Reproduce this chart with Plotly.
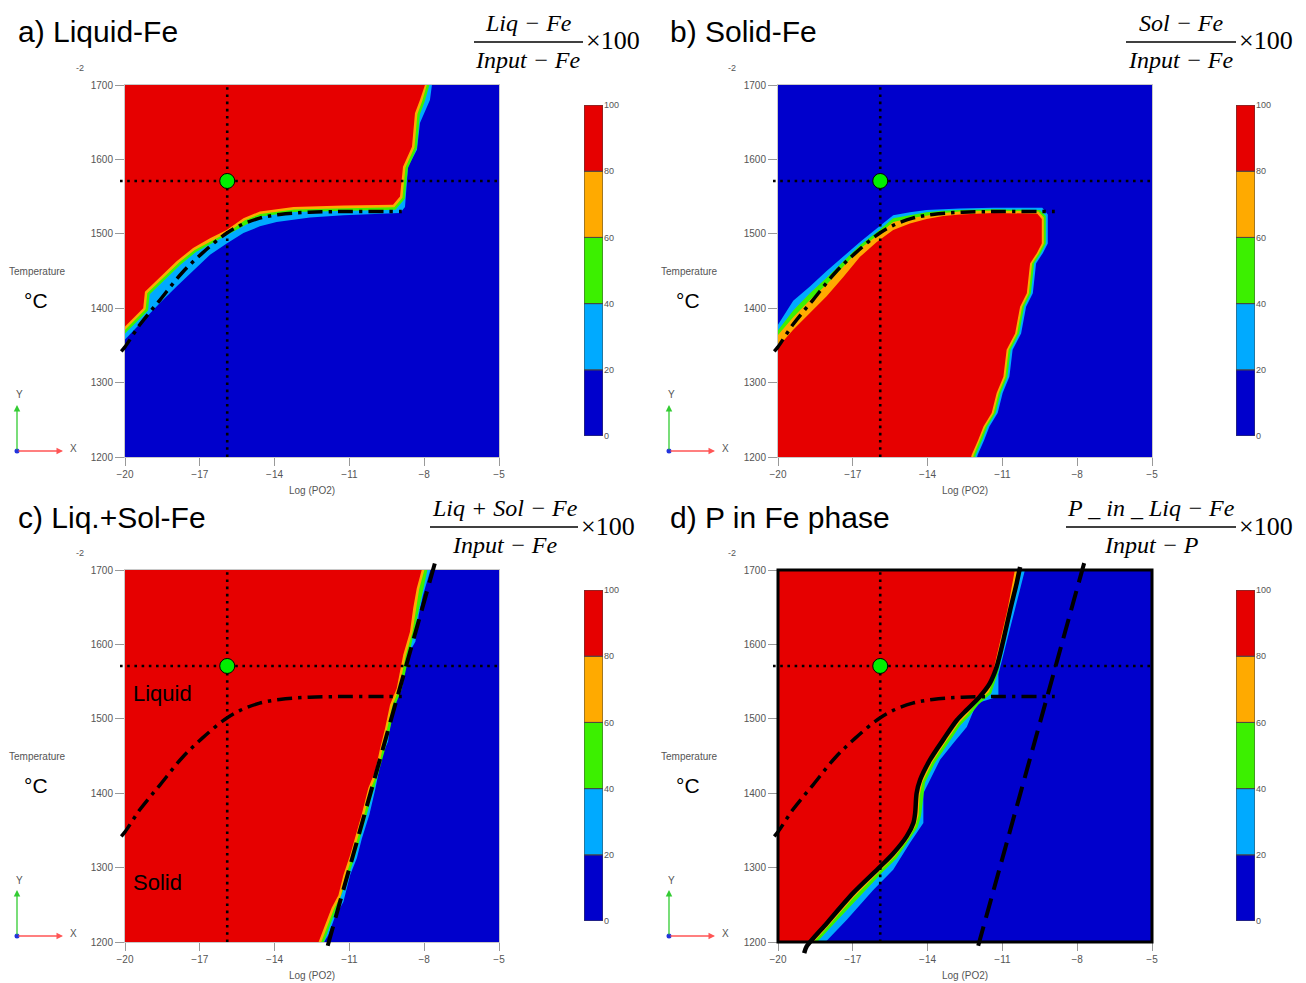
import plotly.graph_objects as go

W, H = 1306, 983

# ---------------- data ----------------
X_RANGE = [-20, -5]
Y_RANGE = [1200, 1700]
X_TICKS = [-20, -17, -14, -11, -8, -5]
Y_TICKS = [1200, 1300, 1400, 1500, 1600, 1700]

CB_LEVELS = [0, 20, 40, 60, 80, 100]
CB_COLORS = ["#0000CC", "#00AAFF", "#3CF000", "#FFAA00", "#E60000"]

# liquidus (dash-dot) line, same in all panels
LIQ_X = [-20.15, -20.0, -19.4, -18.6, -17.7, -16.9, -16.0, -15.4, -14.6, -13.8, -12.6, -11.0, -8.9]
LIQ_T = [1342, 1348, 1378, 1411, 1448, 1474, 1499, 1511, 1521, 1526, 1529, 1530, 1530]

# reference condition (dotted cross + green point)
REF_X = -15.9
REF_T = 1571
HDOT_X = [-20.2, -5.0]
VDOT_T = [1200, 1700]

# a) Liquid-Fe : 80 % edge (red) and 20 % edge (blue)
A_RED_X = [-20.4, -20.0, -19.27, -19.20, -18.60, -17.93, -17.27, -16.59, -15.92, -15.25, -14.59,
           -13.24, -11.24, -9.25, -8.97, -8.89, -8.85, -8.49, -8.37, -8.17, -7.97, -7.90]
A_RED_T = [1362, 1375, 1400, 1422, 1442, 1463, 1481, 1494, 1505, 1521, 1530,
           1536, 1538, 1539, 1550, 1572, 1590, 1617, 1662, 1680, 1700, 1712]
A_BLUE_X = [-20.4, -20.0, -19.27, -18.60, -17.93, -17.26, -16.59, -15.92, -15.25, -14.59, -13.92,
            -12.58, -11.24, -8.97, -8.77, -8.69, -8.65, -8.29, -8.17, -7.77, -7.69, -7.60]
A_BLUE_T = [1344, 1358, 1384, 1407, 1429, 1451, 1472, 1487, 1501, 1510, 1516,
            1522, 1525, 1528, 1536, 1572, 1590, 1613, 1649, 1680, 1700, 1712]

# b) Solid-Fe : edges of the 80, 60, 40 and 20 % levels
B_80_X = [-20.5, -20.05, -19.39, -18.72, -18.05, -17.38, -16.71, -16.04, -15.38, -14.71, -14.04,
          -13.37, -12.70, -11.36, -9.60, -9.42, -9.42, -9.62, -9.89, -10.02, -10.29, -10.49,
          -10.83, -10.96, -11.23, -11.43, -11.76, -11.97, -12.23, -12.35]
B_80_T = [1338, 1346, 1371, 1393, 1416, 1442, 1469, 1489, 1505, 1514, 1520,
          1524, 1526, 1528, 1527, 1520, 1487, 1474, 1460, 1420, 1402, 1366,
          1344, 1308, 1286, 1259, 1241, 1223, 1203, 1188]
B_60_X = [-20.5, -20.05, -19.39, -18.72, -18.05, -17.38, -16.71, -16.04, -15.38, -14.71, -14.04,
          -13.37, -12.70, -11.36, -9.55, -9.34, -9.34, -9.54, -9.81, -9.94, -10.21, -10.41,
          -10.75, -10.88, -11.15, -11.35, -11.68, -11.89, -12.15, -12.27]
B_60_T = [1352, 1362, 1388, 1411, 1432, 1456, 1480, 1497, 1516, 1521, 1525,
          1528, 1530, 1531, 1530, 1522, 1487, 1474, 1460, 1420, 1402, 1366,
          1344, 1308, 1286, 1259, 1241, 1223, 1203, 1188]
B_40_X = [-20.5, -20.05, -19.39, -18.72, -18.05, -17.38, -16.71, -16.04, -15.38, -14.71, -14.04,
          -13.37, -12.70, -11.36, -9.50, -9.26, -9.26, -9.46, -9.73, -9.86, -10.13, -10.33,
          -10.67, -10.80, -11.07, -11.27, -11.60, -11.81, -12.07, -12.19]
B_40_T = [1359, 1368, 1397, 1420, 1441, 1463, 1485, 1502, 1521, 1525, 1529,
          1531, 1532, 1533, 1532, 1524, 1487, 1474, 1460, 1420, 1402, 1366,
          1344, 1308, 1286, 1259, 1241, 1223, 1203, 1188]
B_20_X = [-20.5, -20.05, -19.39, -18.72, -18.05, -17.38, -16.71, -16.04, -15.38, -14.71, -14.04,
          -13.37, -12.70, -11.36, -9.40, -9.18, -9.18, -9.38, -9.65, -9.78, -10.05, -10.25,
          -10.59, -10.72, -10.99, -11.19, -11.52, -11.73, -11.99, -12.11]
B_20_T = [1366, 1375, 1410, 1429, 1450, 1470, 1489, 1507, 1525, 1529, 1532,
          1533, 1534, 1535, 1535, 1526, 1487, 1474, 1460, 1420, 1402, 1366,
          1344, 1308, 1286, 1259, 1241, 1223, 1203, 1188]

# c) Liq.+Sol-Fe
C_RED_X = [-12.35, -12.18, -11.91, -11.71, -11.44, -11.24, -10.97, -10.77, -10.51, -10.24, -9.97,
           -9.77, -9.57, -9.37, -9.10, -8.84, -8.57, -8.44, -8.30, -8.10, -8.00]
C_RED_T = [1190, 1205, 1228, 1246, 1263, 1290, 1317, 1339, 1371, 1407, 1429,
           1460, 1487, 1519, 1541, 1586, 1617, 1649, 1675, 1700, 1712]
C_BLUE_X = [-12.15, -12.05, -11.85, -11.60, -11.24, -10.97, -10.70, -10.50, -10.20, -9.95,
            -9.70, -9.45, -9.25, -8.90, -8.65, -8.35, -8.22, -8.05, -7.75, -7.65]
C_BLUE_T = [1188, 1198, 1209, 1232, 1254, 1290, 1313, 1339, 1371, 1407,
            1451, 1469, 1519, 1541, 1586, 1604, 1640, 1666, 1700, 1712]
C_DASH_X = [-11.87, -7.54]
C_DASH_T = [1195, 1713]

# d) P in Fe phase
D_RED_X = [-19.10, -18.92, -18.07, -16.99, -15.91, -15.39, -14.87, -14.58, -14.46, -14.42, -14.30,
           -13.90, -13.37, -12.83, -12.46, -12.10, -11.62, -11.36, -11.08, -10.80, -10.50, -10.42]
D_RED_T = [1180, 1192, 1223, 1264, 1300, 1317, 1340, 1357, 1371, 1397, 1416,
           1443, 1470, 1496, 1509, 1524, 1538, 1565, 1606, 1646, 1700, 1712]
D_BLUE_X = [-18.40, -18.18, -17.24, -16.18, -15.38, -14.71, -14.17, -14.17, -13.90, -13.50,
            -12.97, -12.43, -12.03, -11.16, -11.16, -10.85, -10.52, -10.20, -10.08, -10.02]
D_BLUE_T = [1185, 1197, 1230, 1270, 1297, 1333, 1360, 1400, 1418, 1445,
            1467, 1489, 1521, 1530, 1560, 1602, 1646, 1687, 1702, 1712]
D_SOL_X = [-18.95, -18.85, -18.05, -16.98, -15.91, -15.38, -14.84, -14.57, -14.50, -14.44, -14.30,
           -13.90, -13.37, -12.83, -12.43, -11.90, -11.50, -11.23, -10.96, -10.69, -10.43, -10.29]
D_SOL_T = [1185, 1194, 1225, 1266, 1301, 1319, 1342, 1360, 1373, 1400, 1418,
           1445, 1472, 1498, 1512, 1530, 1548, 1570, 1606, 1646, 1682, 1704]
D_DASH_X = [-11.97, -7.69]
D_DASH_T = [1195, 1713]

TITLES = ["a) Liquid-Fe", "b) Solid-Fe", "c) Liq.+Sol-Fe", "d) P in Fe phase"]
NUMERATORS = ["Liq − Fe", "Sol − Fe", "Liq + Sol − Fe", "P _ in _ Liq − Fe"]
DENOMINATORS = ["Input − Fe", "Input − Fe", "Input − Fe", "Input − P"]

BLUE, LBLUE, GREEN, ORANGE, RED = CB_COLORS

# ---------------- layout geometry (pixels) ----------------
PANELS = [
    dict(L=125, R=499, T=85, B=457, dx=0, dy=0, cb=(584, 603, 105, 436), frac=(528, 474, 583),
         polys=[(LBLUE, A_BLUE_X, A_BLUE_T), ("bands", A_RED_X, A_RED_T), (RED, A_RED_X, A_RED_T)]),
    dict(L=778, R=1152, T=85, B=457, dx=652, dy=0, cb=(1236, 1255, 105, 436), frac=(1181, 1126, 1236),
         polys=[(LBLUE, B_20_X, B_20_T), (GREEN, B_40_X, B_40_T), (ORANGE, B_60_X, B_60_T),
                (RED, B_80_X, B_80_T)]),
    dict(L=125, R=499, T=570, B=942, dx=0, dy=485, cb=(584, 603, 590, 921), frac=(505, 430, 578),
         polys=[(LBLUE, C_BLUE_X, C_BLUE_T), ("bands", C_RED_X, C_RED_T), (RED, C_RED_X, C_RED_T)],
         dash=(C_DASH_X, C_DASH_T)),
    dict(L=778, R=1152, T=570, B=942, dx=652, dy=485, cb=(1236, 1255, 590, 921), frac=(1151, 1066, 1236),
         polys=[(LBLUE, D_BLUE_X, D_BLUE_T), ("bands", D_RED_X, D_RED_T), (RED, D_RED_X, D_RED_T)],
         dash=(D_DASH_X, D_DASH_T), solid=(D_SOL_X, D_SOL_T), frame=True),
]

PAD = 30


def xd(px):
    return px / W


def yd(py):
    return 1 - py / H


def akey(n, a):
    return f"{a}axis" if n == 1 else f"{a}axis{n}"


def aref(n, a):
    return a if n == 1 else f"{a}{n}"


fig = go.Figure()
layout = dict(width=W, height=H, margin=dict(l=0, r=0, t=0, b=0, autoexpand=False),
              paper_bgcolor="white", plot_bgcolor="rgba(0,0,0,0)", barmode="overlay",
              showlegend=False, shapes=[], annotations=[], bargap=0)

GRAY_TXT = "#555555"


def ann(text, px, py, size, color="black", xanchor="center", yanchor="middle", family="Arial"):
    return dict(text=text, x=xd(px), y=yd(py), xref="paper", yref="paper", showarrow=False,
                font=dict(size=size, color=color, family=family), xanchor=xanchor, yanchor=yanchor)


for i, p in enumerate(PANELS):
    m, o, c = i + 1, i + 5, i + 9
    xs = (X_RANGE[1] - X_RANGE[0]) / (p["R"] - p["L"])
    ys = (Y_RANGE[1] - Y_RANGE[0]) / (p["B"] - p["T"])
    tickfont = dict(family="Arial", size=10, color=GRAY_TXT)
    layout[akey(m, "x")] = dict(domain=[xd(p["L"]), xd(p["R"])], range=X_RANGE, anchor=aref(m, "y"),
                                tickvals=X_TICKS, ticks="outside", ticklen=8, tickcolor="#999",
                                showline=True, linecolor="#c8c8c8", mirror=True, showgrid=False,
                                zeroline=False, tickfont=tickfont, fixedrange=True, automargin=False)
    layout[akey(m, "y")] = dict(domain=[yd(p["B"]), yd(p["T"])], range=Y_RANGE, anchor=aref(m, "x"),
                                tickvals=Y_TICKS, ticks="outside", ticklen=9, tickcolor="#999",
                                showline=True, linecolor="#c8c8c8", mirror=True, showgrid=False,
                                zeroline=False, tickfont=tickfont, fixedrange=True, automargin=False)
    # extended overlay for lines that reach past the frame
    layout[akey(o, "x")] = dict(domain=[xd(p["L"] - PAD), xd(p["R"] + PAD)],
                                range=[X_RANGE[0] - PAD * xs, X_RANGE[1] + PAD * xs],
                                anchor=aref(o, "y"), visible=False, fixedrange=True)
    layout[akey(o, "y")] = dict(domain=[yd(p["B"] + PAD), yd(p["T"] - PAD)],
                                range=[Y_RANGE[0] - PAD * ys, Y_RANGE[1] + PAD * ys],
                                anchor=aref(o, "x"), visible=False, fixedrange=True)
    # colour bar axes
    cx0, cx1, cy0, cy1 = p["cb"]
    layout[akey(c, "x")] = dict(domain=[xd(cx0), xd(cx1)], range=[-0.5, 0.5], anchor=aref(c, "y"),
                                visible=False, fixedrange=True)
    layout[akey(c, "y")] = dict(domain=[yd(cy1), yd(cy0)], range=[CB_LEVELS[0], CB_LEVELS[-1]],
                                anchor=aref(c, "x"), side="right", tickvals=CB_LEVELS, ticks="",
                                showgrid=False, zeroline=False, showline=False, fixedrange=True,
                                automargin=False,
                                tickfont=dict(family="Arial", size=9, color=GRAY_TXT))

    XR, YR = aref(m, "x"), aref(m, "y")
    XO, YO = aref(o, "x"), aref(o, "y")

    # blue background of the map (< 20 %)
    layout["shapes"].append(dict(type="rect", xref=f"{XR} domain", yref=f"{YR} domain",
                                 x0=0, x1=1, y0=0, y1=1, fillcolor=BLUE, line=dict(width=0), layer="below"))

    xc = X_RANGE[0] - 1
    for col, ex, et in p["polys"]:
        if col == "bands":
            # 40-60 % and 60-80 % bands just outside the 80 % edge
            fig.add_trace(go.Scatter(x=ex, y=et, mode="lines", line=dict(width=10, color=GREEN),
                                     xaxis=XR, yaxis=YR, hoverinfo="skip"))
            fig.add_trace(go.Scatter(x=ex, y=et, mode="lines", line=dict(width=5, color=ORANGE),
                                     xaxis=XR, yaxis=YR, hoverinfo="skip"))
        else:
            fig.add_trace(go.Scatter(x=ex + [xc, xc], y=et + [et[-1], et[0]], fill="toself",
                                     fillcolor=col, mode="lines", line=dict(width=0, color=col),
                                     xaxis=XR, yaxis=YR, hoverinfo="skip"))

    # dotted reference cross
    fig.add_trace(go.Scatter(x=HDOT_X, y=[REF_T, REF_T], mode="lines",
                             line=dict(color="black", width=2.6, dash="2.6px,4.6px"),
                             xaxis=XO, yaxis=YO, hoverinfo="skip"))
    fig.add_trace(go.Scatter(x=[REF_X, REF_X], y=VDOT_T, mode="lines",
                             line=dict(color="black", width=2.6, dash="2.6px,4.6px"),
                             xaxis=XO, yaxis=YO, hoverinfo="skip"))
    # liquidus dash-dot
    fig.add_trace(go.Scatter(x=LIQ_X, y=LIQ_T, mode="lines", line_shape="spline",
                             line=dict(color="black", width=3.5, dash="15px,6px,3.5px,6px"),
                             xaxis=XO, yaxis=YO, hoverinfo="skip"))
    if "dash" in p:
        dxs, dts = p["dash"]
        fig.add_trace(go.Scatter(x=dxs, y=dts, mode="lines",
                                 line=dict(color="black", width=4, dash="20px,9px"),
                                 xaxis=XO, yaxis=YO, hoverinfo="skip"))
    if "solid" in p:
        sxs, sts = p["solid"]
        fig.add_trace(go.Scatter(x=sxs, y=sts, mode="lines", line_shape="spline",
                                 line=dict(color="black", width=4.5, smoothing=0.8),
                                 xaxis=XO, yaxis=YO, hoverinfo="skip"))
    # reference point
    fig.add_trace(go.Scatter(x=[REF_X], y=[REF_T], mode="markers",
                             marker=dict(size=15, color="#00EE00", line=dict(color="black", width=1)),
                             xaxis=XO, yaxis=YO, hoverinfo="skip"))

    # colour bar
    for k in range(len(CB_COLORS)):
        fig.add_trace(go.Bar(x=[0], y=[CB_LEVELS[k + 1] - CB_LEVELS[k]], base=[CB_LEVELS[k]], width=[1],
                             marker=dict(color=CB_COLORS[k], line=dict(color="#444", width=1)),
                             xaxis=aref(c, "x"), yaxis=aref(c, "y"), hoverinfo="skip"))

    if p.get("frame"):
        layout["shapes"].append(dict(type="rect", xref=f"{XR} domain", yref=f"{YR} domain",
                                     x0=0, x1=1, y0=0, y1=1, line=dict(color="black", width=3),
                                     fillcolor="rgba(0,0,0,0)", layer="above"))

    dx, dy = p["dx"], p["dy"]
    A = layout["annotations"]
    A.append(ann(TITLES[i], 16 + dx, 32 + dy, 30, xanchor="left"))
    fcx, fb0, fb1 = p["frac"]
    A.append(ann("<i>" + NUMERATORS[i] + "</i>", fcx, 23 + dy, 24, family="Liberation Serif"))
    A.append(ann("<i>" + DENOMINATORS[i] + "</i>", fcx, 60 + dy, 24, family="Liberation Serif"))
    A.append(ann("×100", fb1 + 1, 41 + dy, 26, xanchor="left", family="Liberation Serif"))
    layout["shapes"].append(dict(type="line", xref="paper", yref="paper", x0=xd(fb0), x1=xd(fb1),
                                 y0=yd(42 + dy), y1=yd(42 + dy), line=dict(color="black", width=1.3)))
    A.append(ann("Temperature", 37 + dx, 271 + dy, 10, color=GRAY_TXT))
    A.append(ann("°C", 36 + dx, 300 + dy, 21))
    A.append(ann("-2", 80 + dx, 68 + dy, 9, color=GRAY_TXT))
    A.append(ann("Log (PO2)", (p["L"] + p["R"]) / 2, 490 + dy, 10, color=GRAY_TXT))
    # XY triad
    ox, oy = 17 + dx, 451 + dy
    A.append(dict(text="", x=xd(ox), y=yd(oy - 46), xref="paper", yref="paper", ax=0, ay=46,
                  showarrow=True, arrowhead=2, arrowsize=1, arrowwidth=1.3, arrowcolor="#33CC33"))
    A.append(dict(text="", x=xd(ox + 46), y=yd(oy), xref="paper", yref="paper", ax=-46, ay=0,
                  showarrow=True, arrowhead=2, arrowsize=1, arrowwidth=1.3, arrowcolor="#FF5555"))
    A.append(ann("Y", ox + 2, oy - 56, 10, color=GRAY_TXT))
    A.append(ann("X", ox + 56, oy - 3, 10, color=GRAY_TXT))
    layout["shapes"].append(dict(type="circle", xref="paper", yref="paper",
                                 x0=xd(ox - 2.5), x1=xd(ox + 2.5), y0=yd(oy + 2.5), y1=yd(oy - 2.5),
                                 fillcolor="#2233DD", line=dict(width=0)))

layout["annotations"].append(ann("Liquid", 131, 693, 22, xanchor="left"))
layout["annotations"].append(ann("Solid", 131, 882, 22, xanchor="left"))

fig.update_layout(**layout)
fig.write_html("out.html", config={"displayModeBar": False, "staticPlot": True},
               post_script="document.body.style.margin='0px';document.body.style.overflow='hidden';")
